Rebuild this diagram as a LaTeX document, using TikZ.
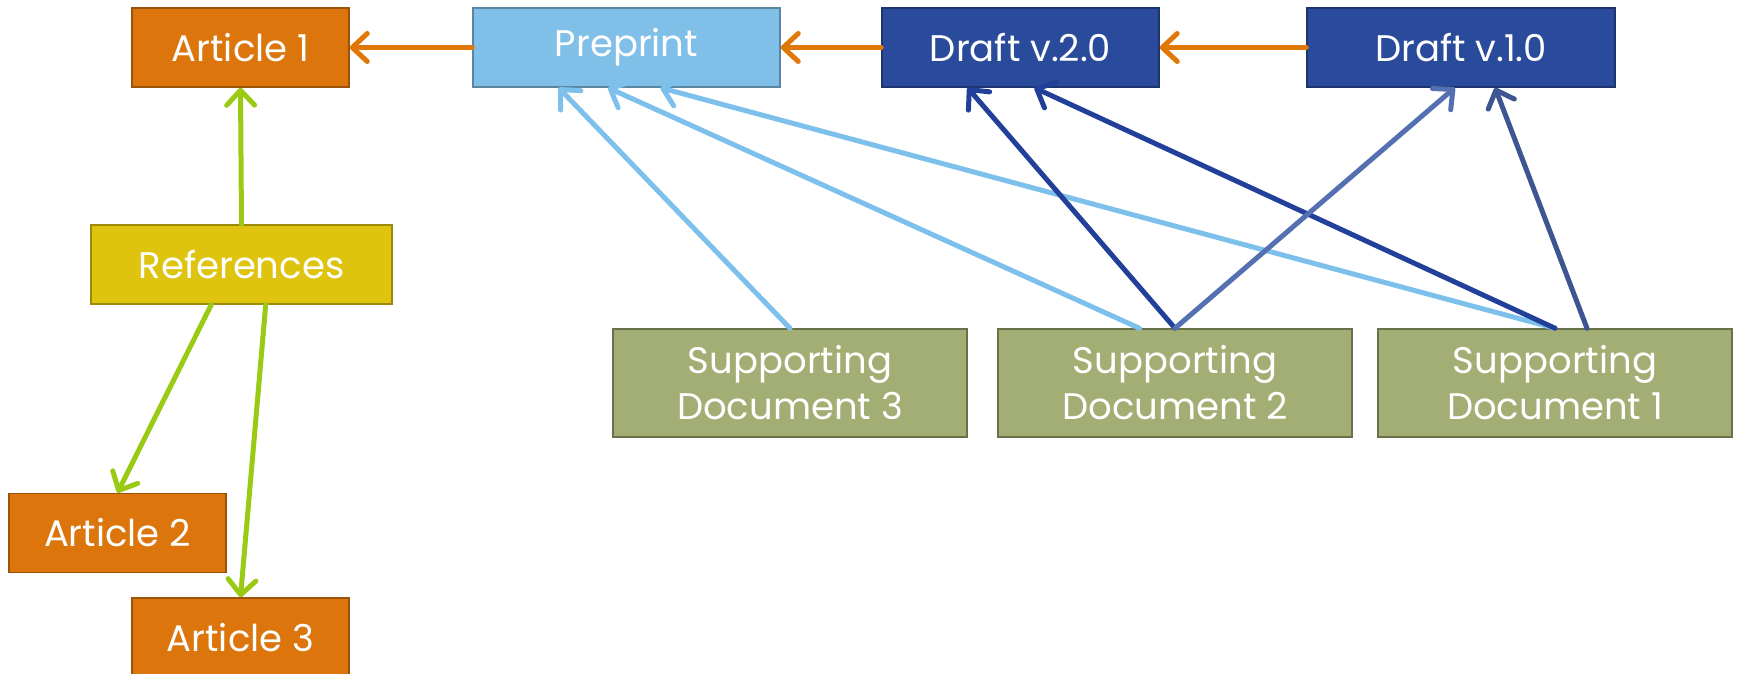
\documentclass[tikz,border=0pt]{standalone}
\usepackage{fontspec}
\setmainfont{Poppins}
\usetikzlibrary{arrows.meta,calc}
\definecolor{artorange}{HTML}{DC760C}
\definecolor{prepblue}{HTML}{80C0E8}
\definecolor{draftblue}{HTML}{2A4A9B}
\definecolor{refyellow}{HTML}{DFC40F}
\definecolor{suppolive}{HTML}{A2AE73}
\definecolor{refgreen}{HTML}{9ACA14}
\definecolor{linkorange}{HTML}{E07808}
\definecolor{linklight}{HTML}{7EC0EC}
\definecolor{linkdark}{HTML}{22409A}
\definecolor{linkmid}{HTML}{5470B0}
\definecolor{linkgrey}{HTML}{3D5590}
\tikzset{
		% Box styles: one for each kind of document
		doc node/.style={rectangle,inner sep=0,line width=1.5,text=white,align=center,
			font=\fontsize{37}{46}\selectfont},
		article node/.style={doc node,fill=artorange,draw=artorange!70!black,minimum width=217,minimum height=79},
		preprint node/.style={doc node,fill=prepblue,draw=prepblue!70!black,minimum width=307,minimum height=79},
		draft node/.style={doc node,fill=draftblue,draw=draftblue!70!black,minimum width=277,minimum height=79},
		ref node/.style={doc node,fill=refyellow,draw=refyellow!70!black,minimum width=301,minimum height=79},
		support node/.style={doc node,fill=suppolive,draw=suppolive!65!black,minimum width=354,minimum height=108},
		% Connectors
		link/.style={line width=5,line cap=round,-{Straight Barb[length=15,width=28,round]}}
	}
\begin{document}
\begin{tikzpicture}[x=1pt,y=-1pt]
		\useasboundingbox (0,0) rectangle (1739,674);
		% top row
		\node [article node] (art1) at (240.5,47.5) {Article 1};
		\node [preprint node] (prep) at (626.5,47.5) {Preprint};
		\node [draft node, minimum width=277] (draft2) at (1020.5,47.5) {Draft v.2.0};
		\node [draft node, minimum width=308] (draft1) at (1461,47.5) {Draft v.1.0};
		% references and the other articles
		\node [ref node] (refs) at (241.5,264.5) {References};
		\node [article node] (art2) at (117.5,533) {Article 2};
		\node [article node] (art3) at (240.5,637.5) {Article 3};
		% supporting documents
		\node [support node] (sd3) at (790,383) {Supporting\\Document 3};
		\node [support node] (sd2) at (1175,383) {Supporting\\Document 2};
		\node [support node] (sd1) at (1555,383) {Supporting\\Document 1};
		% versions
		\draw [link,linkorange] (prep.west) -- (art1.east);
		\draw [link,linkorange] (draft2.west) -- (prep.east);
		\draw [link,linkorange] (draft1.west) -- (draft2.east);
		% references
		\draw [link,refgreen] (refs.north) -- (art1.south);
		\draw [link,refgreen] ($(refs.south west)!0.40!(refs.south east)$) -- (art2.north);
		\draw [link,refgreen] ($(refs.south west)!0.58!(refs.south east)$) -- (art3.north);
		% supporting documents to preprint
		\draw [link,linklight] (sd3.north) -- ($(prep.south west)!0.28!(prep.south east)$);
		\draw [link,linklight] ($(sd2.north west)!0.40!(sd2.north east)$) -- ($(prep.south west)!0.44!(prep.south east)$);
		\draw [link,linklight] (sd1.north) -- ($(prep.south west)!0.61!(prep.south east)$);
		% supporting documents to drafts
		\draw [link,linkdark] (sd2.north) -- ($(draft2.south west)!0.31!(draft2.south east)$);
		\draw [link,linkdark] (sd1.north) -- ($(draft2.south west)!0.55!(draft2.south east)$);
		\draw [link,linkmid] (sd2.north) -- ($(draft1.south west)!0.48!(draft1.south east)$);
		\draw [link,linkgrey] ($(sd1.north west)!0.59!(sd1.north east)$) -- ($(draft1.south west)!0.61!(draft1.south east)$);
	\end{tikzpicture}
\end{document}
